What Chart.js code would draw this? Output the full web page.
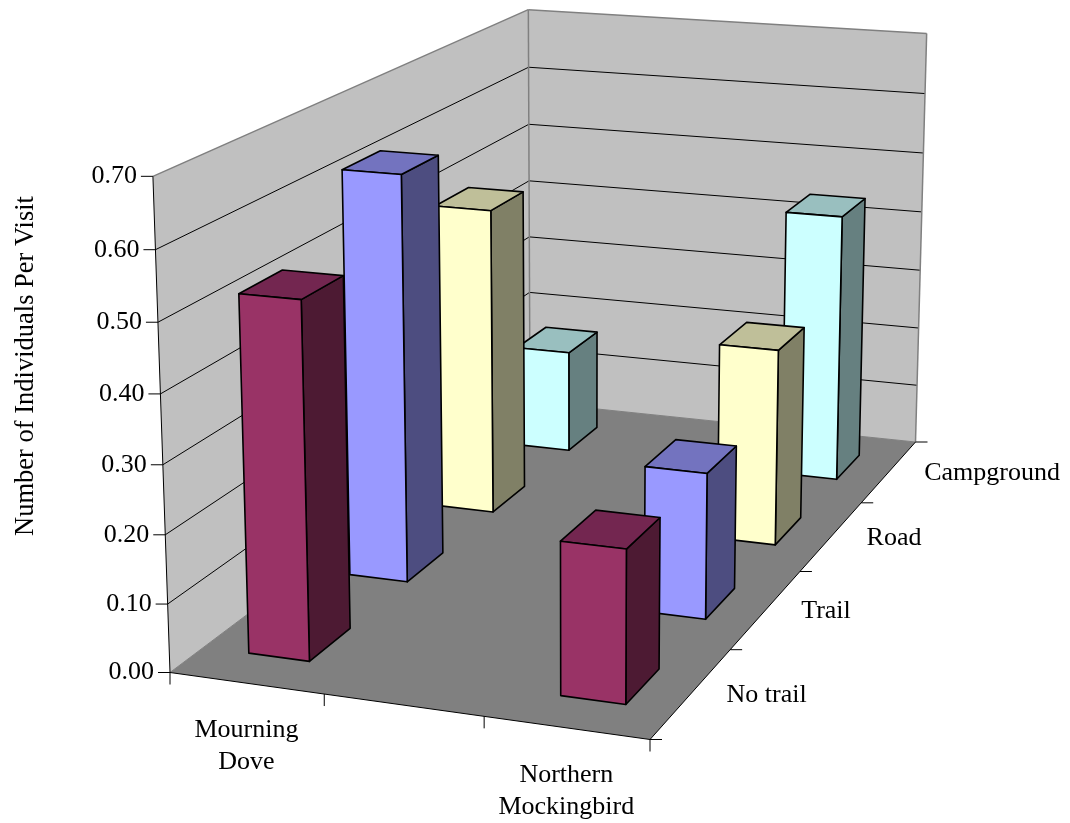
<!DOCTYPE html>
<html>
<head>
<meta charset="utf-8">
<title>Number of Individuals Per Visit</title>
<script src="https://cdn.jsdelivr.net/npm/chart.js@4/dist/chart.umd.min.js"></script>
<style>
  html, body { margin: 0; padding: 0; background: #fff; }
  canvas { display: block; }
</style>
</head>
<body>
<canvas id="birds" width="1070" height="823"></canvas>
<script>
var categories = ["Mourning Dove", "", "Northern Mockingbird"];
var depthLabels = ["No trail", "Trail", "Road", "Campground"];
var noTrail = [0.52, null, 0.22];
var trail = [0.62, null, 0.22];
var road = [0.49, null, 0.31];
var campground = [0.17, null, 0.44];
var yTitle = "Number of Individuals Per Visit";

var FONT = '26px "Liberation Serif"';

// corners of the plot box on the page, used to set up the perspective
var box = {
    frontLeft: [170, 672.5],
    frontRight: [650, 739.5],
    backRight: [915.5, 442],
    backLeft: [530, 402],
    frontLeftTop: [152, 174],
    backLeftTop: [529, 11],
    backRightTop: [926.7, 34]
};

function det3(m) {
    return m[0][0] * (m[1][1] * m[2][2] - m[1][2] * m[2][1]) -
        m[0][1] * (m[1][0] * m[2][2] - m[1][2] * m[2][0]) +
        m[0][2] * (m[1][0] * m[2][1] - m[1][1] * m[2][0]);
}

function buildCamera(b) {
    var x0 = b.frontLeft[0], y0 = b.frontLeft[1];
    var x1 = b.frontRight[0], y1 = b.frontRight[1];
    var x2 = b.backRight[0], y2 = b.backRight[1];
    var x3 = b.backLeft[0], y3 = b.backLeft[1];
    var dx1 = x1 - x2, dx2 = x3 - x2, sx = x0 - x1 + x2 - x3;
    var dy1 = y1 - y2, dy2 = y3 - y2, sy = y0 - y1 + y2 - y3;
    var den = dx1 * dy2 - dx2 * dy1;
    var g = (sx * dy2 - dx2 * sy) / den;
    var h = (dx1 * sy - sx * dy1) / den;
    var p1 = [x1 - x0 + g * x1, y1 - y0 + g * y1, g];
    var p3 = [x3 - x0 + h * x3, y3 - y0 + h * y3, h];
    var p4 = [x0, y0, 1];

    // the vertical column comes from a least squares fit on the three top corners
    var rows = [];
    [[b.frontLeftTop, 0, 0], [b.backLeftTop, 0, 1], [b.backRightTop, 1, 1]].forEach(function (c) {
        var base = [0, 1, 2].map(function (n) { return p1[n] * c[1] + p3[n] * c[2] + p4[n]; });
        rows.push([1, 0, -c[0][0], c[0][0] * base[2] - base[0]]);
        rows.push([0, 1, -c[0][1], c[0][1] * base[2] - base[1]]);
    });
    var A = [[0, 0, 0], [0, 0, 0], [0, 0, 0]], r = [0, 0, 0];
    rows.forEach(function (row) {
        for (var i = 0; i < 3; i++) {
            r[i] += row[i] * row[3];
            for (var j = 0; j < 3; j++) A[i][j] += row[i] * row[j];
        }
    });
    var d = det3(A);
    var p2 = [0, 1, 2].map(function (col) {
        return det3(A.map(function (line, i) {
            return line.map(function (cell, j) { return j === col ? r[i] : cell; });
        })) / d;
    });

    return function (u, v, w) {
        var dn = p1[2] * u + p2[2] * v + p3[2] * w + p4[2];
        return [
            (p1[0] * u + p2[0] * v + p3[0] * w + p4[0]) / dn,
            (p1[1] * u + p2[1] * v + p3[1] * w + p4[1]) / dn
        ];
    };
}

var project = buildCamera(box);

function poly(ctx, pts, fill, stroke, width) {
    ctx.beginPath();
    pts.forEach(function (p, i) {
        if (i === 0) ctx.moveTo(p[0], p[1]);
        else ctx.lineTo(p[0], p[1]);
    });
    ctx.closePath();
    if (fill) {
        ctx.fillStyle = fill;
        ctx.fill();
    }
    if (stroke) {
        ctx.strokeStyle = stroke;
        ctx.lineWidth = width;
        ctx.stroke();
    }
}

function seg(ctx, a, b, color, width) {
    ctx.beginPath();
    ctx.moveTo(a[0], a[1]);
    ctx.lineTo(b[0], b[1]);
    ctx.strokeStyle = color;
    ctx.lineWidth = width;
    ctx.stroke();
}

var box3d = {
    id: "box3d",
    beforeDatasetsDraw: function (chart) {
        var ctx = chart.ctx;
        var sx = chart.scales.x, sy = chart.scales.y, sz = chart.scales.z;
        var U = function (i) { return (sx.getPixelForValue(i) - sx.left) / sx.width; };
        var V = function (val) { return (sy.bottom - sy.getPixelForValue(val)) / sy.height; };
        var W = function (i) { return (sz.getPixelForValue(i) - sz.left) / sz.width; };
        var P = function (i, val, k) { return project(U(i), V(val), W(k)); };

        var iMin = -0.5, iMax = categories.length - 0.5;
        var kMin = -0.5, kMax = depthLabels.length - 0.5;
        var top = sy.max;

        ctx.save();
        ctx.lineJoin = "round";

        // walls and floor
        poly(ctx, [P(iMin, 0, kMin), P(iMin, top, kMin), P(iMin, top, kMax), P(iMin, 0, kMax)], "#c0c0c0");
        poly(ctx, [P(iMin, 0, kMax), P(iMin, top, kMax), P(iMax, top, kMax), P(iMax, 0, kMax)], "#c0c0c0");
        poly(ctx, [P(iMin, 0, kMin), P(iMax, 0, kMin), P(iMax, 0, kMax), P(iMin, 0, kMax)], "#808080");

        // grid lines on both walls
        sy.ticks.forEach(function (t) {
            if (t.value === 0 || t.value === top) return;
            seg(ctx, P(iMin, t.value, kMin), P(iMin, t.value, kMax), "#000", 1);
            seg(ctx, P(iMin, t.value, kMax), P(iMax, t.value, kMax), "#000", 1);
        });

        // wall outlines
        seg(ctx, P(iMin, top, kMin), P(iMin, top, kMax), "#808080", 1.5);
        seg(ctx, P(iMin, top, kMax), P(iMax, top, kMax), "#808080", 1.5);
        seg(ctx, P(iMin, 0, kMax), P(iMin, top, kMax), "#808080", 1.5);
        seg(ctx, P(iMax, 0, kMax), P(iMax, top, kMax), "#808080", 1.5);
        seg(ctx, P(iMin, 0, kMin), P(iMin, 0, kMax), "#808080", 1);
        seg(ctx, P(iMin, 0, kMax), P(iMax, 0, kMax), "#808080", 1);

        // axis lines and tick marks
        seg(ctx, P(iMin, 0, kMin), P(iMin, top, kMin), "#000", 1);
        seg(ctx, P(iMin, 0, kMin), P(iMax, 0, kMin), "#000", 1);
        seg(ctx, P(iMax, 0, kMin), P(iMax, 0, kMax), "#000", 1);

        ctx.font = FONT;
        ctx.fillStyle = "#000";
        ctx.textBaseline = "middle";

        ctx.textAlign = "right";
        sy.ticks.forEach(function (t) {
            var p = P(iMin, t.value, kMin);
            seg(ctx, [p[0] - 12, p[1]], p, "#000", 1);
            ctx.fillStyle = "#000";
            ctx.fillText(t.value.toFixed(2), p[0] - 16, p[1]);
        });

        categories.forEach(function (name, i) {
            var a = P(i - 0.5, 0, kMin);
            seg(ctx, a, [a[0], a[1] + 12], "#000", 1);
        });
        var endX = P(iMax, 0, kMin);
        seg(ctx, endX, [endX[0], endX[1] + 12], "#000", 1);

        depthLabels.forEach(function (name, k) {
            var a = P(iMax, 0, k - 0.5);
            seg(ctx, a, [a[0] + 12, a[1]], "#000", 1);
        });
        var endZ = P(iMax, 0, kMax);
        seg(ctx, endZ, [endZ[0] + 12, endZ[1]], "#000", 1);

        // category labels wrap onto two lines
        ctx.textAlign = "center";
        ctx.fillStyle = "#000";
        categories.forEach(function (name, i) {
            if (!name) return;
            var p = P(i, 0, kMin);
            name.split(" ").forEach(function (line, n) {
                ctx.fillText(line, p[0], p[1] + 47 + n * 32);
            });
        });

        ctx.textAlign = "left";
        depthLabels.forEach(function (name, k) {
            var p = P(iMax, 0, k);
            ctx.fillText(name, p[0] + 35, p[1] + 2);
        });

        ctx.save();
        ctx.translate(26.5, 366);
        ctx.rotate(-Math.PI / 2);
        ctx.textAlign = "center";
        ctx.font = '26.5px "Liberation Serif"';
        ctx.fillText(yTitle, 0, 0);
        ctx.restore();

        // bars, from the back row to the front row
        var datasets = chart.data.datasets;
        for (var k = datasets.length - 1; k >= 0; k--) {
            var ds = datasets[k];
            ds.data.forEach(function (val, i) {
                if (val === null) return;
                var hx = ds.barSpan / 2, hz = ds.barDepth / 2;
                var a = [i - hx, i + hx], c = [k - hz, k + hz];
                poly(ctx, [P(a[1], 0, c[0]), P(a[1], val, c[0]), P(a[1], val, c[1]), P(a[1], 0, c[1])], ds.sideColor, "#000", 1.6);
                poly(ctx, [P(a[0], val, c[0]), P(a[1], val, c[0]), P(a[1], val, c[1]), P(a[0], val, c[1])], ds.topColor, "#000", 1.6);
                poly(ctx, [P(a[0], 0, c[0]), P(a[1], 0, c[0]), P(a[1], val, c[0]), P(a[0], val, c[0])], ds.backgroundColor, "#000", 1.6);
            });
        }
        ctx.restore();
        return false;
    }
};

var names = depthLabels;
var seriesValues = [noTrail, trail, road, campground];
var fronts = ["#993366", "#9999ff", "#ffffcc", "#ccffff"];
var tops = ["#732650", "#7373bf", "#bfbf99", "#99bfbf"];
var sides = ["#4d1a33", "#4d4d80", "#808066", "#668080"];

new Chart(document.getElementById("birds"), {
    type: "bar",
    data: {
        labels: categories,
        datasets: seriesValues.map(function (vals, k) {
            return {
                label: names[k],
                data: vals,
                backgroundColor: fronts[k],
                topColor: tops[k],
                sideColor: sides[k],
                barSpan: 0.4,
                barDepth: 0.4
            };
        })
    },
    options: {
        responsive: false,
        animation: false,
        plugins: { legend: { display: false }, tooltip: { enabled: false } },
        scales: {
            x: { type: "category", offset: true, display: false },
            y: { type: "linear", min: 0, max: 0.7, ticks: { stepSize: 0.1 }, display: false },
            z: { type: "category", axis: "x", labels: depthLabels, offset: true, display: false }
        }
    },
    plugins: [box3d]
});
</script>
</body>
</html>
